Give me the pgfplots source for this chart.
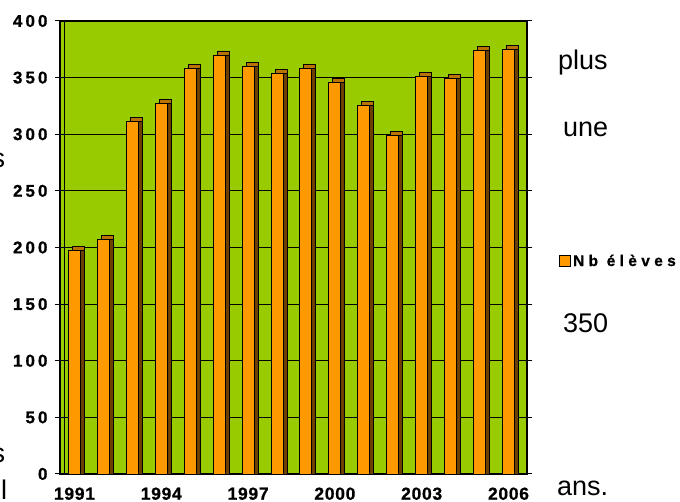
\documentclass[border=0pt]{standalone}
\usepackage{fontspec}
\setmainfont{Liberation Sans}
\newfontfamily\xtickfont[LetterSpace=4,FakeBold=0.8]{Liberation Sans}
\newfontfamily\ytickfont[LetterSpace=18,FakeBold=0.8]{Liberation Sans}
\newfontfamily\legfont[LetterSpace=28,FakeBold=0.8]{Liberation Sans}
\newcommand\ylab[1]{{\ytickfont\bfseries\fontsize{17}{18}\selectfont #1}}
\usepackage{pgfplots}
\usepackage{pgfplotstable}
\pgfplotsset{compat=1.18}
\definecolor{bggreen}{HTML}{99CC00}
\definecolor{barorange}{HTML}{FF9900}
\definecolor{bartop}{HTML}{B87300}
\definecolor{barside}{HTML}{6E4000}
\pgfplotstableread{
x v
0 197
1 207
2 311
3 327
4 358
5 370
6 360
7 354
8 358
9 346
10 325
11 299
12 351
13 349
14 374
15 375
}\eleves
\begin{document}
\begin{tikzpicture}[x=1pt,y=1pt]
\useasboundingbox (0,0) rectangle (680,502);
\begin{axis}[
  at={(60pt,28pt)}, anchor=south west,
  scale only axis, width=467pt, height=453pt,
  xmin=-0.5, xmax=15.64, ymin=0, ymax=400,
  axis background/.style={fill=bggreen},
  axis line style={line width=1.2pt},
  ytick={0,50,...,400},
  yticklabels={\ylab{0},\ylab{50},\ylab{100},\ylab{150},\ylab{200},\ylab{250},\ylab{300},\ylab{350},\ylab{400}},
  ymajorgrids, grid style={black, line width=1pt},
  xtick={0,3,6,9,12,15},
  xticklabels={1991,1994,1997,2000,2003,2006},
  x tick style={draw=none},
  y tick style={black, line width=1pt},
  tick align=outside, major tick length=5pt,
  extra x ticks={-0.5,0.5,...,15.5},
  extra x tick labels={},
  extra x tick style={grid=none, major tick length=6pt, tick style={draw=black, line width=1pt}},
  /pgf/number format/assume math mode=true,
  yticklabel style={xshift=-4pt},
  every x tick label/.style={font=\xtickfont\bfseries\fontsize{17.5}{18}\selectfont, yshift=-5pt},
  legend style={at={(1.0685,0.470)}, anchor=west, draw=none, fill=none,
     inner sep=0pt, font=\legfont\bfseries\fontsize{15.5}{16}\selectfont},
  legend image code/.code={\draw[fill=barorange, draw=black, line width=0.9pt] (0pt,-5.5pt) rectangle (11pt,5.5pt);},
]
\addplot[ybar, bar width=12pt, bar shift=4pt, yshift=4pt, fill=bartop, draw=black, line width=0.9pt, forget plot] table[x=x, y=v] {\eleves};
\addplot[ybar, bar width=12pt, bar shift=4pt, fill=barside, draw=black, line width=0.9pt, forget plot] table[x=x, y=v] {\eleves};
\addplot[ybar, bar width=12pt, bar shift=0pt, fill=barorange, draw=black, line width=0.9pt] table[x=x, y=v] {\eleves};
\addlegendentry{Nb élèves}
\end{axis}
\draw[line width=1pt] (64,28) -- (64,481);
\begin{scope}[every node/.style={inner sep=0pt, anchor=base west, font=\fontsize{27}{30}\selectfont}]
\node at (558,432) {plus};
\node at (563,365) {une};
\node at (563,169) {350};
\node at (557,6) {ans.};
\node at (-8.5,334) {s};
\node at (-8.5,39) {s};
\node at (1,2) {l};
\end{scope}
\end{tikzpicture}
\end{document}
